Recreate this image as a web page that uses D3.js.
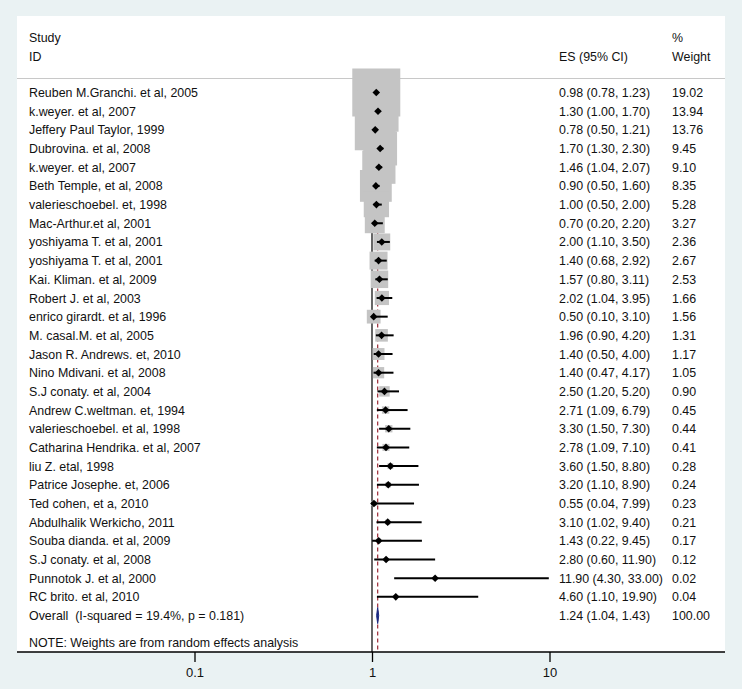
<!DOCTYPE html>
<html>
<head>
<meta charset="utf-8">
<script src="https://cdn.jsdelivr.net/npm/d3@7"></script>
<style>
  html, body { margin: 0; padding: 0; background: #eaf2f3; }
  svg { display: block; }
  text { font-family: "Liberation Sans", Arial, sans-serif; fill: #111; }
</style>
</head>
<body>
<svg id="chart" width="742" height="689"></svg>
<script>
// ---------- data ----------
const studies = [
  "Reuben M.Granchi. et al, 2005",
  "k.weyer. et al, 2007",
  "Jeffery Paul Taylor, 1999",
  "Dubrovina. et al, 2008",
  "k.weyer. et al, 2007",
  "Beth Temple, et al, 2008",
  "valerieschoebel. et, 1998",
  "Mac-Arthur.et al, 2001",
  "yoshiyama T. et al, 2001",
  "yoshiyama T. et al, 2001",
  "Kai. Kliman. et al, 2009",
  "Robert J. et al, 2003",
  "enrico girardt. et al, 1996",
  "M. casal.M. et al, 2005",
  "Jason R. Andrews. et, 2010",
  "Nino Mdivani. et al, 2008",
  "S.J conaty. et al, 2004",
  "Andrew C.weltman. et, 1994",
  "valerieschoebel. et al, 1998",
  "Catharina Hendrika. et al, 2007",
  "liu Z. etal, 1998",
  "Patrice Josephe. et, 2006",
  "Ted cohen, et a, 2010",
  "Abdulhalik Werkicho, 2011",
  "Souba dianda. et al, 2009",
  "S.J conaty. et al, 2008",
  "Punnotok J. et al, 2000",
  "RC brito. et al, 2010"
];
const es   = [0.98, 1.30, 0.78, 1.70, 1.46, 0.90, 1.00, 0.70, 2.00, 1.40, 1.57, 2.02, 0.50, 1.96, 1.40, 1.40, 2.50, 2.71, 3.30, 2.78, 3.60, 3.20, 0.55, 3.10, 1.43, 2.80, 11.90, 4.60];
const lo   = [0.78, 1.00, 0.50, 1.30, 1.04, 0.50, 0.50, 0.20, 1.10, 0.68, 0.80, 1.04, 0.10, 0.90, 0.50, 0.47, 1.20, 1.09, 1.50, 1.09, 1.50, 1.10, 0.04, 1.02, 0.22, 0.60, 4.30, 1.10];
const hi   = [1.23, 1.70, 1.21, 2.30, 2.07, 1.60, 2.00, 2.20, 3.50, 2.92, 3.11, 3.95, 3.10, 4.20, 4.00, 4.17, 5.20, 6.79, 7.30, 7.10, 8.80, 8.90, 7.99, 9.40, 9.45, 11.90, 33.00, 19.90];
const weights = [19.02, 13.94, 13.76, 9.45, 9.10, 8.35, 5.28, 3.27, 2.36, 2.67, 2.53, 1.66, 1.56, 1.31, 1.17, 1.05, 0.90, 0.45, 0.44, 0.41, 0.28, 0.24, 0.23, 0.21, 0.17, 0.12, 0.02, 0.04];
const overall = { label: "Overall  (I-squared = 19.4%, p = 0.181)", es: 1.24, lo: 1.04, hi: 1.43, weight: 100.00 };
const noteText = "NOTE: Weights are from random effects analysis";
const axisTicks = [0.1, 1, 10];

// ---------- layout ----------
const plot = { left: 17, right: 725, top: 16, bottom: 652 };
const svg = d3.select("#chart");

svg.append("rect")
  .attr("x", plot.left).attr("y", plot.top)
  .attr("width", plot.right - plot.left).attr("height", plot.bottom - plot.top)
  .attr("fill", "#ffffff");

const xAxisScale = d3.scaleLog().domain([0.01, 100]).range([plot.left, plot.right + 2]);
const xMark = d3.scaleLinear().domain([-65.7, 65.7]).range([plot.left, plot.right]);
const nRows = studies.length;
const yRow = d3.scaleLinear().domain([0, nRows]).range([92.5, 92.5 + 18.68 * nRows]);
const boxSide = d3.scaleSqrt().domain([0, 19.02]).range([0, 48]);

const fs = 13;
const sx = 0.955;
const xLabel = 29, xES = 559, xWt = 672;
const headerLineY = 78.5;

// text helper: slightly condensed like the Stata render
function addText(g, x, y, str) {
  return g.append("text")
    .attr("transform", `translate(${x},${y}) scale(${sx},1)`)
    .attr("dy", "0.35em")
    .attr("font-size", fs)
    .attr("xml:space", "preserve")
    .style("white-space", "pre")
    .text(str);
}

const header = svg.append("g");
addText(header, xLabel, 37.5, "Study");
addText(header, xLabel, 56.5, "ID");
addText(header, xES, 56.5, "ES (95% CI)");
addText(header, xWt, 37.5, "%");
addText(header, xWt, 56.5, "Weight");

svg.append("line")
  .attr("x1", plot.left).attr("x2", plot.right)
  .attr("y1", headerLineY).attr("y2", headerLineY)
  .attr("stroke", "#c8c8c8").attr("stroke-width", 1);

svg.append("line")
  .attr("x1", xAxisScale(1)).attr("x2", xAxisScale(1))
  .attr("y1", headerLineY).attr("y2", plot.bottom)
  .attr("stroke", "#000").attr("stroke-width", 1.2);

svg.append("line")
  .attr("x1", xMark(overall.es)).attr("x2", xMark(overall.es))
  .attr("y1", headerLineY).attr("y2", plot.bottom)
  .attr("stroke", "#9b2a36").attr("stroke-width", 1.2)
  .attr("stroke-dasharray", "4,3");

const rows = studies.map((s, i) => ({ s, es: es[i], lo: lo[i], hi: hi[i], w: weights[i], i }));

svg.append("g").selectAll("rect").data(rows).join("rect")
  .attr("x", d => xMark(d.es) - boxSide(d.w) / 2)
  .attr("y", d => yRow(d.i) - boxSide(d.w) / 2)
  .attr("width", d => boxSide(d.w))
  .attr("height", d => boxSide(d.w))
  .attr("fill", "#c4c4c4");

svg.append("g").selectAll("line").data(rows).join("line")
  .attr("x1", d => xMark(d.lo)).attr("x2", d => xMark(d.hi))
  .attr("y1", d => yRow(d.i)).attr("y2", d => yRow(d.i))
  .attr("stroke", "#000").attr("stroke-width", 2);

const pd = 3.8;
svg.append("g").selectAll("path").data(rows).join("path")
  .attr("d", d => {
    const x = xMark(d.es), y = yRow(d.i);
    return `M${x - pd},${y}L${x},${y - pd}L${x + pd},${y}L${x},${y + pd}Z`;
  })
  .attr("fill", "#000");

{
  const y = yRow(nRows);
  svg.append("path")
    .attr("d", `M${xMark(overall.lo)},${y}L${xMark(overall.es)},${y - 8}L${xMark(overall.hi)},${y}L${xMark(overall.es)},${y + 8}Z`)
    .attr("fill", "#1b2a82").attr("stroke", "#1b2a82").attr("stroke-width", 1);
}

const fmt = v => v.toFixed(2);
const txt = svg.append("g");
rows.forEach(d => {
  const y = yRow(d.i);
  addText(txt, xLabel, y, d.s);
  addText(txt, xES, y, `${fmt(d.es)} (${fmt(d.lo)}, ${fmt(d.hi)})`);
  addText(txt, xWt, y, fmt(d.w));
});
{
  const y = yRow(nRows);
  addText(txt, xLabel, y, overall.label);
  addText(txt, xES, y, `${fmt(overall.es)} (${fmt(overall.lo)}, ${fmt(overall.hi)})`);
  addText(txt, xWt, y, fmt(overall.weight));
  addText(txt, xLabel, 642, noteText);
}

const axis = d3.axisBottom(xAxisScale).tickValues(axisTicks).tickSize(10).tickPadding(6)
  .tickFormat(d => String(d));
const gAxis = svg.append("g").attr("transform", `translate(0,${plot.bottom})`).call(axis);
gAxis.select(".domain").attr("d", `M${plot.left},0H${plot.right}`).attr("stroke", "#000").attr("stroke-width", 1.3);
gAxis.selectAll(".tick line").attr("stroke", "#000").attr("stroke-width", 1.3);
gAxis.selectAll(".tick text").attr("font-size", fs).attr("font-family", "Liberation Sans, Arial, sans-serif").attr("fill", "#111");
</script>
</body>
</html>
